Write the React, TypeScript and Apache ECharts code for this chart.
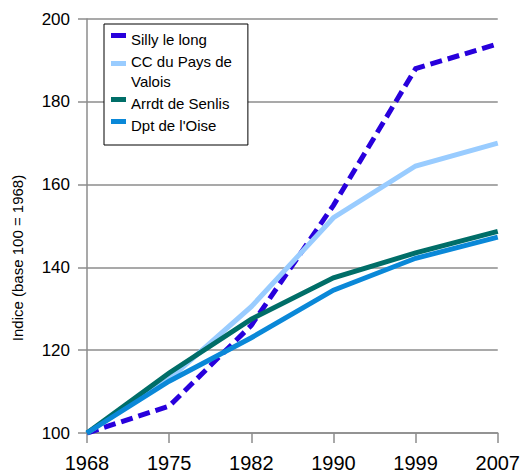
import React, { useEffect, useRef } from "react";
import * as echarts from "echarts";

const years = ["1968", "1975", "1982", "1990", "1999", "2007"];
const seriesNames = ["Silly le long", "CC du Pays de Valois", "Arrdt de Senlis", "Dpt de l'Oise"];
const sillyValues = [100, 106.5, 126, 155, 188, 194];
const ccValues = [100, 113, 130.5, 152, 164.5, 170];
const arrdtValues = [100, 114.5, 127.5, 137.5, 143.5, 148.7];
const dptValues = [100, 112.5, 123, 134.5, 142.2, 147.3];
const colors = ["#2800dc", "#99ccff", "#006e68", "#0a88d8"];
const yAxisTitle = "Indice (base 100 = 1968)";

const FONT = "'Liberation Sans', Arial, sans-serif";

export default function App() {
  const ref = useRef<HTMLDivElement>(null);
  useEffect(() => {
    if (!ref.current) return;
    const chart = echarts.init(ref.current, null, { renderer: "svg" });
    const values = [sillyValues, ccValues, arrdtValues, dptValues];
    const normalIcon = "path://M0,0h1v0h-1z M0,4h15v5h-15z M0,20h1v0h-1z";
    const twoLineIcon = "path://M0,0h15v5h-15z M0,20h1v0h-1z";
    chart.setOption({
      animation: false,
      grid: { left: 87, right: 22, top: 19, bottom: 40, containLabel: false },
      legend: {
        orient: "vertical",
        left: 104,
        top: 24,
        padding: [5, 16, 10, 7],
        itemGap: 2,
        itemWidth: 15,
        itemHeight: 20,
        backgroundColor: "#ffffff",
        borderColor: "#000000",
        borderWidth: 1,
        borderRadius: 0,
        selectedMode: false,
        textStyle: { fontSize: 15, lineHeight: 20, color: "#000", fontFamily: FONT },
        itemStyle: { borderWidth: 0 },
        formatter: (n: string) => (n === seriesNames[1] ? "CC du Pays de\nValois" : n),
        data: seriesNames.map((n, i) => ({ name: n, icon: i === 1 ? twoLineIcon : normalIcon })),
      },
      xAxis: {
        type: "category",
        data: years,
        boundaryGap: false,
        axisLine: { show: true, lineStyle: { color: "#8c8c8c", width: 1.5 } },
        axisTick: { show: true, length: 10, alignWithLabel: true, lineStyle: { color: "#8c8c8c", width: 1.5 } },
        axisLabel: { fontSize: 20, color: "#000", fontFamily: FONT, margin: 20, interval: 0 },
        splitLine: { show: false },
      },
      yAxis: {
        type: "value",
        min: 100,
        max: 200,
        interval: 20,
        name: yAxisTitle,
        nameLocation: "middle",
        nameRotate: 90,
        nameGap: 62,
        nameTextStyle: { fontSize: 15, color: "#000", fontFamily: FONT, padding: [0, 64, 0, 0] },
        axisLine: { show: true, lineStyle: { color: "#8c8c8c", width: 1.5 } },
        axisTick: { show: true, length: 9, lineStyle: { color: "#8c8c8c", width: 1.5 } },
        axisLabel: { fontSize: 17, color: "#000", fontFamily: FONT, margin: 17 },
        splitLine: { show: true, lineStyle: { color: "#8c8c8c", width: 1.5 } },
      },
      series: seriesNames.map((n, i) => ({
        name: n,
        type: "line",
        data: values[i],
        showSymbol: false,
        symbol: "none",
        itemStyle: { color: colors[i] },
        lineStyle: {
          color: colors[i],
          width: 5,
          type: i === 0 ? [12, 6] : "solid",
          cap: "butt",
          join: "miter",
        },
      })),
    });
    return () => chart.dispose();
  }, []);
  return <div ref={ref} style={{ position: "absolute", left: 0, top: 0, width: 523, height: 473 }} />;
}
